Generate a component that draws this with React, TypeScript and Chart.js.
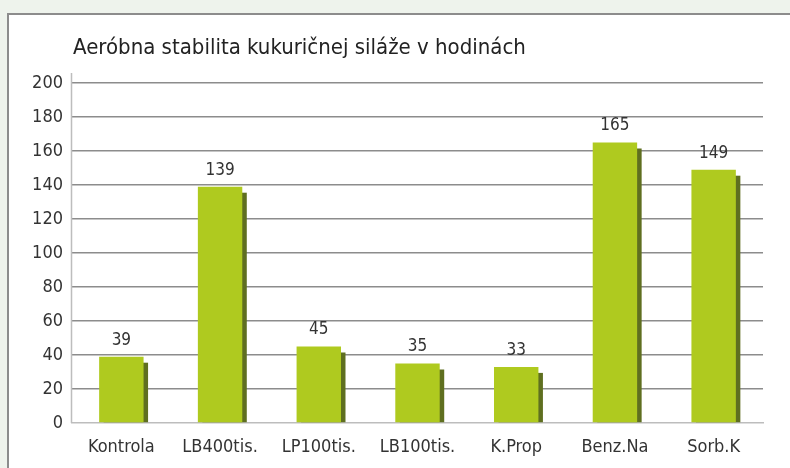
import React, { useEffect, useRef } from "react";
import { Chart, registerables } from "chart.js";

Chart.register(...registerables);

const categories = ["Kontrola", "LB400tis.", "LP100tis.", "LB100tis.", "K.Prop", "Benz.Na", "Sorb.K"];
const values = [39, 139, 45, 35, 33, 165, 149];
const titleText = "Aeróbna stabilita kukuričnej siláže v hodinách";

const FONT = "'DejaVu Sans Condensed', 'Liberation Sans Narrow', 'DejaVu Sans', sans-serif";
const BAR = "#afca1f";
const SHADOW = "#5f6f20";

const shadowPlugin = {
  id: "shadowBars",
  beforeDatasetsDraw(chart: any) {
    const ctx = chart.ctx;
    const meta = chart.getDatasetMeta(0);
    ctx.save();
    ctx.fillStyle = SHADOW;
    meta.data.forEach((el: any) => {
      const p = el.getProps(["x", "y", "base", "width"], true);
      const left = p.x - p.width / 2 + 4.5;
      const top = p.y + 6;
      ctx.fillRect(left, top, p.width, p.base - top);
    });
    ctx.restore();
  },
  afterDatasetsDraw(chart: any) {
    const ctx = chart.ctx;
    const meta = chart.getDatasetMeta(0);
    const ds = chart.data.datasets[0];
    ctx.save();
    ctx.fillStyle = "#333333";
    ctx.font = `17px ${FONT}`;
    ctx.textAlign = "center";
    ctx.textBaseline = "bottom";
    meta.data.forEach((el: any, i: number) => {
      const p = el.getProps(["x", "y"], true);
      ctx.fillText(String(ds.data[i]), p.x, p.y - 8);
    });
    // title
    const area = chart.chartArea;
    ctx.textAlign = "left";
    ctx.textBaseline = "alphabetic";
    ctx.font = `22px ${FONT}`;
    ctx.fillStyle = "#222222";
    ctx.fillText(titleText, area.left + 1, 54);
    // y axis line extension
    ctx.strokeStyle = "#bdbdbd";
    ctx.lineWidth = 1.5;
    ctx.beginPath();
    ctx.moveTo(area.left - 0.5, area.top - 10);
    ctx.lineTo(area.left - 0.5, area.bottom);
    ctx.stroke();
    ctx.restore();
  },
};

export default function App() {
  const ref = useRef<HTMLCanvasElement>(null);
  useEffect(() => {
    if (!ref.current) return;
    const chart = new Chart(ref.current, {
      type: "bar",
      data: {
        labels: categories,
        datasets: [
          {
            data: values,
            backgroundColor: BAR,
            borderWidth: 0,
            categoryPercentage: 1,
            barPercentage: 0.45,
          },
        ],
      },
      options: {
        responsive: false,
        animation: false,
        layout: { padding: { top: 83, right: 27, left: 0, bottom: 0 } },
        plugins: {
          legend: { display: false },
          title: { display: false },
          tooltip: { enabled: false },
        },
        scales: {
          x: {
            grid: { display: false, drawTicks: false },
            border: { display: true, color: "#bdbdbd", width: 1.5 },
            ticks: { color: "#333333", font: { family: FONT, size: 18 }, padding: 14 },
            afterFit: (s: any) => {
              s.height = 45;
            },
          },
          y: {
            min: 0,
            max: 200,
            ticks: { stepSize: 20, color: "#333333", font: { family: FONT, size: 18 }, padding: 9 },
            grid: {
              color: (c: any) => (c.tick && c.tick.value === 0 ? "rgba(0,0,0,0)" : "#8c8c8c"),
              lineWidth: 1.5,
              drawTicks: false,
            },
            border: { display: false },
            afterFit: (s: any) => {
              s.width = 72;
            },
          },
        },
      },
      plugins: [shadowPlugin],
    });
    return () => chart.destroy();
  }, []);

  return (
    <div
      style={{
        position: "fixed",
        left: 0,
        top: 0,
        width: 790,
        height: 468,
        background: "#eef3ec",
        overflow: "hidden",
      }}
    >
      <div
        style={{
          position: "absolute",
          left: 7,
          top: 13,
          width: 900,
          height: 600,
          background: "#ffffff",
          borderTop: "2px solid #8c8c8c",
          borderLeft: "2px solid #8c8c8c",
        }}
      />
      <canvas
        ref={ref}
        width={790}
        height={468}
        style={{ position: "absolute", left: 0, top: 0, width: 790, height: 468 }}
      />
    </div>
  );
}
